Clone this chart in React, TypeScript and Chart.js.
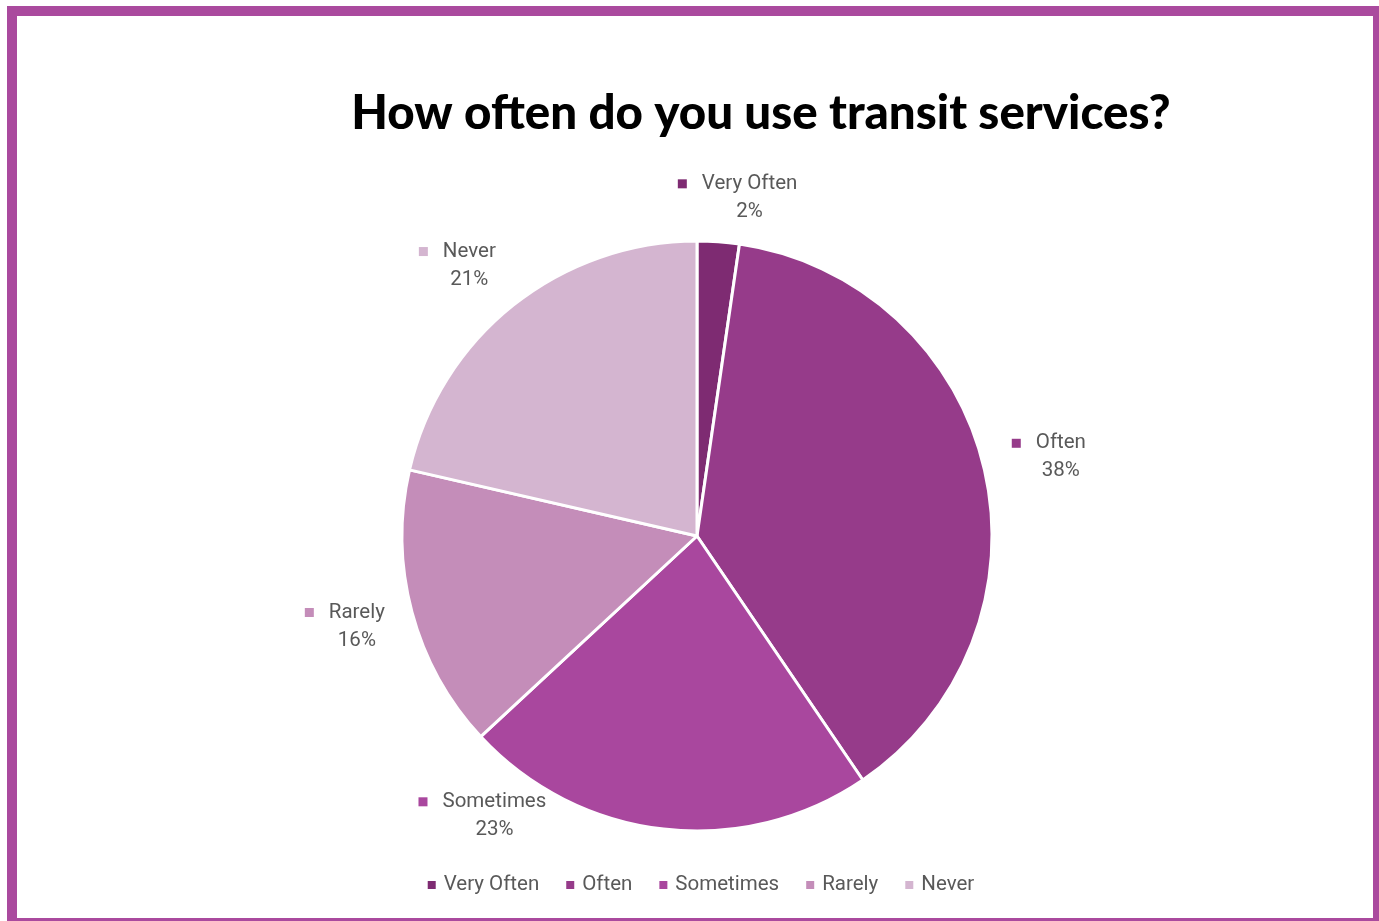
import { useEffect, useRef } from "react";
import { Chart, registerables } from "chart.js";

Chart.register(...registerables);

const categories = ["Very Often", "Often", "Sometimes", "Rarely", "Never"];
const shares = [2.3, 38.2, 22.6, 15.5, 21.4];
const percentLabels = ["2%", "38%", "23%", "16%", "21%"];
const sliceColors = ["#7E2B72", "#963B8A", "#A9479E", "#C48DB9", "#D4B5D0"];
const titleText = "How often do you use transit services?";

const W = 1379;
const H = 921;
const TEXT_COLOR = "#595959";
const LABEL_FONT = "20.5px Roboto";

const titlePlugin = {
  id: "customTitle",
  afterDraw(chart: any) {
    const ctx = chart.ctx;
    ctx.save();
    ctx.fillStyle = "#000000";
    ctx.font = "900 47.5px Lato";
    ctx.textAlign = "center";
    ctx.textBaseline = "middle";
    ctx.fillText(titleText, 761, 114);
    ctx.restore();
  },
};

const clamp1 = (v: number) => Math.max(-1, Math.min(1, v));

const labelPlugin = {
  id: "outsideLabels",
  afterDatasetsDraw(chart: any) {
    const ctx = chart.ctx;
    const meta = chart.getDatasetMeta(0);
    ctx.save();
    ctx.font = LABEL_FONT;
    ctx.textBaseline = "middle";
    ctx.textAlign = "center";
    meta.data.forEach((arc: any, i: number) => {
      const { x, y, startAngle, endAngle, outerRadius } = arc.getProps(
        ["x", "y", "startAngle", "endAngle", "outerRadius"],
        true
      );
      const name = categories[i];
      const pct = percentLabels[i];
      const textW = Math.max(ctx.measureText(name).width, ctx.measureText(pct).width);
      const marker = 9;
      const mgap = 15;
      const blockW = marker + mgap + textW;
      const halfW = blockW / 2;
      const halfH = 24;
      const gx = 28;
      const gy = 20;
      const maxDy = outerRadius - 15;
      let a = (startAngle + endAngle) / 2;
      const place = (ang: number, k: number) => ({
        cx: x + Math.cos(ang) * (outerRadius + gx) + clamp1(Math.cos(ang) * k) * halfW,
        cy: y + Math.sin(ang) * (outerRadius + gy) + clamp1(Math.sin(ang) * 1.5) * halfH,
      });
      let p = place(a, 4);
      let guard = 0;
      let constrained = false;
      while (p.cy - y > maxDy && guard < 400) {
        a += a > Math.PI / 2 ? 0.005 : -0.005;
        p = place(a, 0.7);
        constrained = true;
        guard++;
      }
      if (constrained) p = place(a, 0.7);
      const left = p.cx - halfW;
      const textCx = left + marker + mgap + textW / 2;
      ctx.fillStyle = sliceColors[i];
      ctx.fillRect(left, p.cy - 14 - marker / 2, marker, marker);
      ctx.fillStyle = TEXT_COLOR;
      ctx.fillText(name, textCx, p.cy - 14);
      ctx.fillText(pct, textCx, p.cy + 14);
    });
    ctx.restore();
  },
};

const legendPlugin = {
  id: "customLegend",
  afterDraw(chart: any) {
    const ctx = chart.ctx;
    const area = chart.chartArea;
    ctx.save();
    ctx.font = LABEL_FONT;
    ctx.textBaseline = "middle";
    ctx.textAlign = "left";
    const marker = 8;
    const toText = 16;
    const itemGap = 27;
    const widths = categories.map((c) => ctx.measureText(c).width);
    const total =
      widths.reduce((s, w) => s + w + toText, 0) + itemGap * (categories.length - 1);
    let xPos = (area.left + area.right) / 2 + 4 - total / 2;
    const yPos = 885;
    categories.forEach((c, i) => {
      ctx.fillStyle = sliceColors[i];
      ctx.fillRect(xPos, yPos - marker / 2, marker, marker);
      ctx.fillStyle = TEXT_COLOR;
      ctx.fillText(c, xPos + toText, yPos);
      xPos += toText + widths[i] + itemGap;
    });
    ctx.restore();
  },
};

export default function App() {
  const canvasRef = useRef<HTMLCanvasElement | null>(null);

  useEffect(() => {
    if (!canvasRef.current) return;
    const chart = new Chart(canvasRef.current, {
      type: "pie",
      data: {
        labels: categories,
        datasets: [
          {
            data: shares,
            backgroundColor: sliceColors,
            borderColor: "#FFFFFF",
            borderWidth: 3,
          },
        ],
      },
      options: {
        responsive: false,
        animation: false,
        radius: 295,
        layout: { padding: { left: 297, right: 282, top: 236, bottom: 85 } },
        plugins: {
          legend: { display: false },
          title: { display: false },
          tooltip: { enabled: false },
        },
      } as any,
      plugins: [titlePlugin, labelPlugin, legendPlugin],
    });
    return () => chart.destroy();
  }, []);

  return (
    <div
      style={{
        position: "fixed",
        left: 0,
        top: 0,
        width: W,
        height: H,
        overflow: "hidden",
        background: "#FFFFFF",
      }}
    >
      <canvas ref={canvasRef} width={W} height={H} style={{ display: "block", width: W, height: H }} />
      <div
        style={{
          position: "absolute",
          left: 7,
          top: 6,
          width: 1376,
          height: 922,
          boxSizing: "border-box",
          border: "10px solid #AA4A9E",
          pointerEvents: "none",
        }}
      />
    </div>
  );
}
